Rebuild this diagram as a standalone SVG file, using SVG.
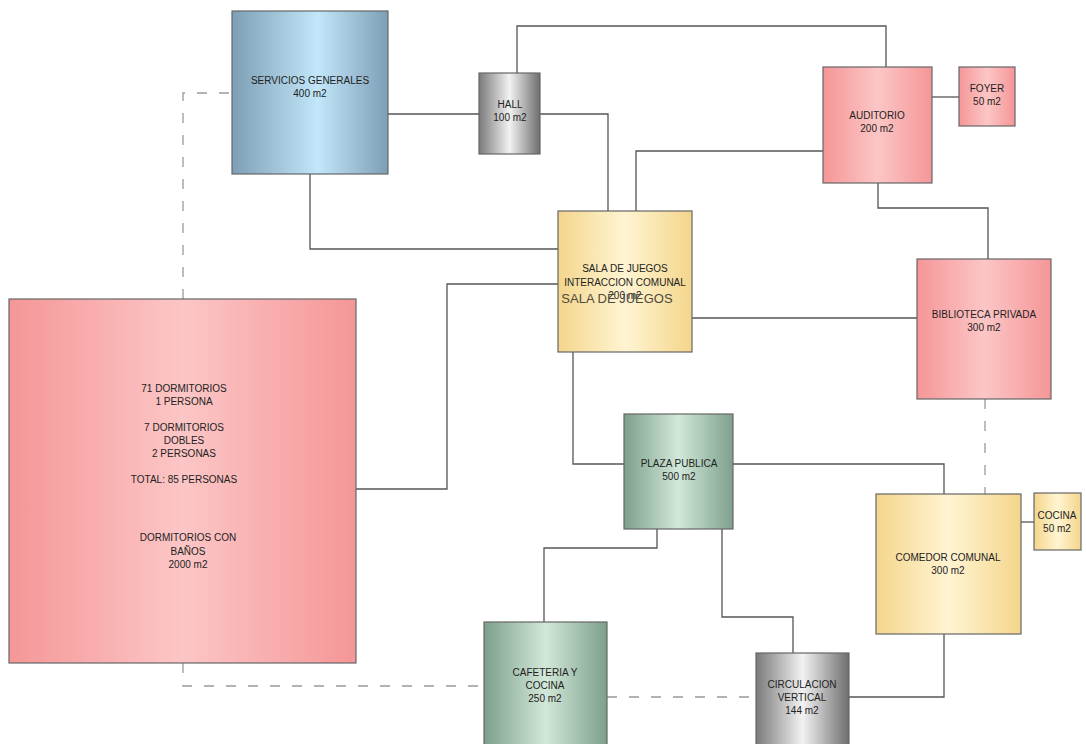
<svg xmlns="http://www.w3.org/2000/svg" width="1086" height="744" viewBox="0 0 1086 744">
<defs>
<linearGradient id="gBlue" x1="0" y1="0" x2="1" y2="0"><stop offset="0" stop-color="#7d9fb5"/><stop offset="0.55" stop-color="#c2e6fa"/><stop offset="1" stop-color="#7d9fb5"/></linearGradient>
<linearGradient id="gGray" x1="0" y1="0" x2="1" y2="0"><stop offset="0" stop-color="#7a7a7a"/><stop offset="0.5" stop-color="#f2f2f2"/><stop offset="1" stop-color="#6e6e6e"/></linearGradient>
<linearGradient id="gYellow" x1="0" y1="0" x2="1" y2="0"><stop offset="0" stop-color="#f4d68c"/><stop offset="0.5" stop-color="#fff4d2"/><stop offset="1" stop-color="#f4d68c"/></linearGradient>
<linearGradient id="gPink" x1="0" y1="0" x2="1" y2="0"><stop offset="0" stop-color="#f59697"/><stop offset="0.5" stop-color="#fcc6c6"/><stop offset="1" stop-color="#f59697"/></linearGradient>
<linearGradient id="gGreen" x1="0" y1="0" x2="1" y2="0"><stop offset="0" stop-color="#7da08c"/><stop offset="0.5" stop-color="#d2e8d9"/><stop offset="1" stop-color="#7da08c"/></linearGradient>
</defs>
<style>
.box{stroke:#666;stroke-width:1.2}
.ln{fill:none;stroke:#555;stroke-width:1.3}
.dash{fill:none;stroke:#9a9a9a;stroke-width:1.3;stroke-dasharray:10 12}
text{font-family:"Liberation Sans",Arial,sans-serif;font-size:10px;fill:#222;text-anchor:middle}
.big{font-size:13px;fill:#4d4a3c}
</style>
<rect width="1086" height="744" fill="#fff"/>
<g id="connectors">
<polyline class="ln" points="388,114 479,114"/>
<polyline class="ln" points="517,73 517,26 886,26 886,67"/>
<polyline class="ln" points="310,174 310,249 558,249"/>
<polyline class="ln" points="540,114 608,114 608,211"/>
<polyline class="ln" points="636,211 636,151 823,151"/>
<polyline class="ln" points="932,97 959,97"/>
<polyline class="ln" points="878,183 878,208 988,208 988,259"/>
<polyline class="ln" points="692,318 917,318"/>
<polyline class="ln" points="558,284 447,284 447,489 356,489"/>
<polyline class="ln" points="573,352 573,464 624,464"/>
<polyline class="ln" points="733,464 944,464 944,494"/>
<polyline class="ln" points="657,529 657,548 544,548 544,622"/>
<polyline class="ln" points="722,529 722,617 793,617 793,653"/>
<polyline class="ln" points="849,697 944,697 944,634"/>
<polyline class="ln" points="1021,522 1034,522"/>
<polyline class="dash" points="183,299 183,93 232,93"/>
<polyline class="dash" points="183,663 183,686 484,686"/>
<polyline class="dash" points="607,697 756,697"/>
<polyline class="dash" points="985,399 985,494"/>
</g>
<g id="servicios"><rect class="box" x="232" y="11" width="156" height="163" fill="url(#gBlue)"/><text x="310" y="84">SERVICIOS GENERALES</text><text x="310" y="97">400 m2</text></g>
<g id="hall"><rect class="box" x="479" y="73" width="61" height="81" fill="url(#gGray)"/><text x="510" y="108">HALL</text><text x="510" y="121">100 m2</text></g>
<g id="auditorio"><rect class="box" x="823" y="67" width="109" height="116" fill="url(#gPink)"/><text x="877" y="119">AUDITORIO</text><text x="877" y="132">200 m2</text></g>
<g id="foyer"><rect class="box" x="959" y="67" width="56" height="59" fill="url(#gPink)"/><text x="987" y="92">FOYER</text><text x="987" y="105">50 m2</text></g>
<g id="sala"><rect class="box" x="558" y="211" width="134" height="141" fill="url(#gYellow)"/><text x="625" y="272">SALA DE JUEGOS</text><text x="625" y="286">INTERACCION COMUNAL</text><text x="625" y="299">200 m2</text><text class="big" x="617" y="303">SALA DE JUEGOS</text></g>
<g id="biblioteca"><rect class="box" x="917" y="259" width="134" height="140" fill="url(#gPink)"/><text x="984" y="318">BIBLIOTECA PRIVADA</text><text x="984" y="331">300 m2</text></g>
<g id="dormitorios"><rect class="box" x="9" y="299" width="347" height="364" fill="url(#gPink)"/>
<text x="184" y="392">71 DORMITORIOS</text><text x="184" y="405">1 PERSONA</text>
<text x="184" y="431">7 DORMITORIOS</text><text x="184" y="444">DOBLES</text><text x="184" y="457">2 PERSONAS</text>
<text x="184" y="483">TOTAL: 85 PERSONAS</text>
<text x="188" y="541">DORMITORIOS CON</text><text x="188" y="555">BAÑOS</text><text x="188" y="568">2000 m2</text></g>
<g id="plaza"><rect class="box" x="624" y="414" width="109" height="115" fill="url(#gGreen)"/><text x="679" y="467">PLAZA PUBLICA</text><text x="679" y="480">500 m2</text></g>
<g id="cafeteria"><rect class="box" x="484" y="622" width="123" height="130" fill="url(#gGreen)"/><text x="545" y="676">CAFETERIA Y</text><text x="545" y="689">COCINA</text><text x="545" y="702">250 m2</text></g>
<g id="circulacion"><rect class="box" x="756" y="653" width="93" height="99" fill="url(#gGray)"/><text x="802" y="688">CIRCULACION</text><text x="802" y="701">VERTICAL</text><text x="802" y="714">144 m2</text></g>
<g id="comedor"><rect class="box" x="876" y="494" width="145" height="140" fill="url(#gYellow)"/><text x="948" y="561">COMEDOR COMUNAL</text><text x="948" y="574">300 m2</text></g>
<g id="cocina"><rect class="box" x="1034" y="493" width="47" height="57" fill="url(#gYellow)"/><text x="1057" y="519">COCINA</text><text x="1057" y="532">50 m2</text></g>
</svg>
